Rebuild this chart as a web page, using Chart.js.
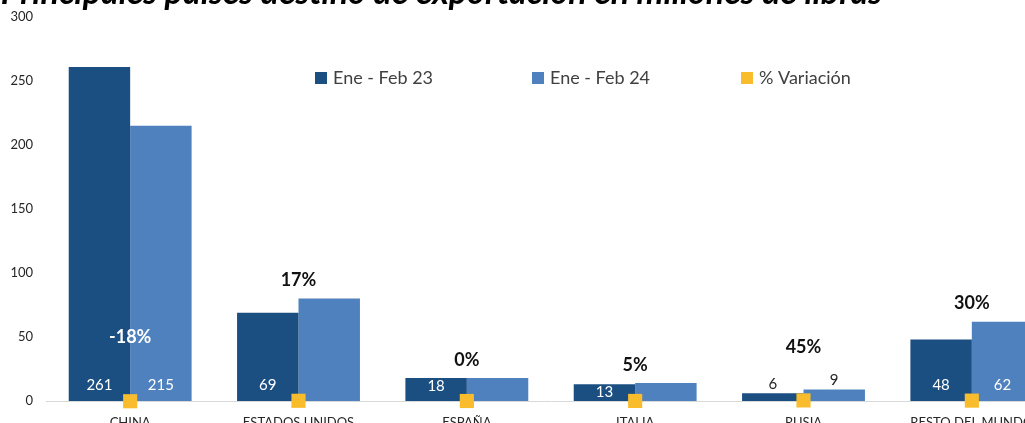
<!DOCTYPE html>
<html lang="es">
<head>
<meta charset="utf-8">
<title>Principales países destino de exportación</title>
<script src="https://cdn.jsdelivr.net/npm/chart.js@4.4.1/dist/chart.umd.min.js"></script>
<style>
  html, body { margin: 0; padding: 0; background: #ffffff; }
  body { width: 1025px; height: 423px; overflow: hidden; position: relative; }
  #wrap { position: absolute; left: 0; top: -30px; width: 1066px; height: 470px; }
</style>
</head>
<body>
<div id="wrap"><canvas id="chart" width="1066" height="470"></canvas></div>
<script>
// Export destinations, millions of pounds, Jan-Feb of each year
const paises = ['CHINA', 'ESTADOS UNIDOS', 'ESPAÑA', 'ITALIA', 'RUSIA', 'RESTO DEL MUNDO'];
const eneFeb23 = [261, 69, 18, 13, 6, 48];
const eneFeb24 = [215, 80, 18, 14, 9, 62];
// year-on-year change, as a fraction
const variacion = [-0.18, 0.17, 0.00, 0.05, 0.45, 0.30];
// which 2024 bars carry a value label
const etiqueta24 = [true, false, false, false, true, true];
const yTicks = [0, 50, 100, 150, 200, 250, 300];

const TITULO = 'Principales países destino de exportación en millones de libras';
const C_DARK = '#1B4F82';
const C_LIGHT = '#4E81BD';
const C_GOLD = '#F8BC2C';
const FONT = 'Lato, "Open Sans", sans-serif';

const textPlugin = {
  id: 'chartText',
  afterDatasetsDraw(chart) {
    const ctx = chart.ctx;
    const y = chart.scales.y;
    const base = y.getPixelForValue(0);
    ctx.save();
    ctx.textAlign = 'center';
    ctx.textBaseline = 'middle';

    // value labels on the bars
    const showFlags = [eneFeb23.map(() => true), etiqueta24];
    [0, 1].forEach(di => {
      const meta = chart.getDatasetMeta(di);
      const vals = chart.data.datasets[di].data;
      meta.data.forEach((bar, i) => {
        if (!showFlags[di][i]) return;
        const v = vals[i];
        ctx.font = '15px ' + FONT;
        if (v < 10) {
          ctx.fillStyle = '#262626';
          ctx.fillText(String(v), bar.x, bar.y - 9);
        } else {
          ctx.fillStyle = '#ffffff';
          ctx.fillText(String(v), bar.x, Math.max(base - 16, bar.y + 8));
        }
      });
    });

    // percentage change above each pair
    ctx.font = 'bold 18px ' + FONT;
    const pts = chart.getDatasetMeta(2).data;
    variacion.forEach((p, i) => {
      const txt = Math.round(p * 100) + '%';
      const hi = Math.max(eneFeb23[i], eneFeb24[i]);
      let ty;
      if (p < 0) {
        ctx.fillStyle = '#ffffff';
        ty = y.getPixelForValue(50);
      } else {
        ctx.fillStyle = '#111111';
        ty = y.getPixelForValue(hi) - 18;
        if (hi < 10) ty -= 24;
      }
      ctx.fillText(txt, pts[i].x, ty);
    });
    ctx.restore();
  },
  afterDraw(chart) {
    const ctx = chart.ctx;
    ctx.save();
    // title
    ctx.font = 'italic bold 34px ' + FONT;
    ctx.fillStyle = '#000000';
    ctx.textAlign = 'right';
    ctx.textBaseline = 'alphabetic';
    ctx.fillText(TITULO, 882, 34);

    // legend
    const items = [
      { text: chart.data.datasets[0].label, color: C_DARK, x: 315 },
      { text: chart.data.datasets[1].label, color: C_LIGHT, x: 532 },
      { text: chart.data.datasets[2].label, color: C_GOLD, x: 741 }
    ];
    ctx.font = '18px ' + FONT;
    ctx.textAlign = 'left';
    ctx.textBaseline = 'middle';
    items.forEach(it => {
      ctx.fillStyle = it.color;
      ctx.fillRect(it.x, 102, 12, 12);
      ctx.fillStyle = '#404040';
      ctx.fillText(it.text, it.x + 18, 108);
    });
    ctx.restore();
  }
};

new Chart(document.getElementById('chart'), {
  data: {
    labels: paises,
    datasets: [
      { type: 'bar', label: 'Ene - Feb 23', data: eneFeb23, backgroundColor: C_DARK, order: 1,
        categoryPercentage: 0.73, barPercentage: 1.0 },
      { type: 'bar', label: 'Ene - Feb 24', data: eneFeb24, backgroundColor: C_LIGHT, order: 1,
        categoryPercentage: 0.73, barPercentage: 1.0 },
      { type: 'line', label: '% Variación', data: variacion, order: 0, showLine: false, clip: false,
        pointStyle: 'rect', pointRadius: 10, pointHoverRadius: 10, pointBorderWidth: 0,
        pointBackgroundColor: C_GOLD, borderColor: C_GOLD, backgroundColor: C_GOLD }
    ]
  },
  options: {
    responsive: false,
    animation: false,
    devicePixelRatio: 1,
    layout: { padding: { top: 47, left: 0, right: 4, bottom: 0 } },
    plugins: { legend: { display: false }, title: { display: false }, tooltip: { enabled: false } },
    scales: {
      x: {
        grid: { display: false, drawTicks: false },
        border: { display: true, color: '#d9d9d9', width: 1 },
        ticks: { font: { family: FONT, size: 13 }, color: '#262626', padding: 14,
                 maxRotation: 0, autoSkip: false },
        afterFit(s) { s.height = 39; }
      },
      y: {
        min: 0, max: 300,
        afterBuildTicks(s) { s.ticks = yTicks.map(v => ({ value: v })); },
        grid: { display: false, drawTicks: false },
        border: { display: false },
        ticks: { font: { family: FONT, size: 13 }, color: '#262626', padding: 13 },
        afterFit(s) { s.width = 46; }
      }
    }
  },
  plugins: [textPlugin]
});
</script>
</body>
</html>
